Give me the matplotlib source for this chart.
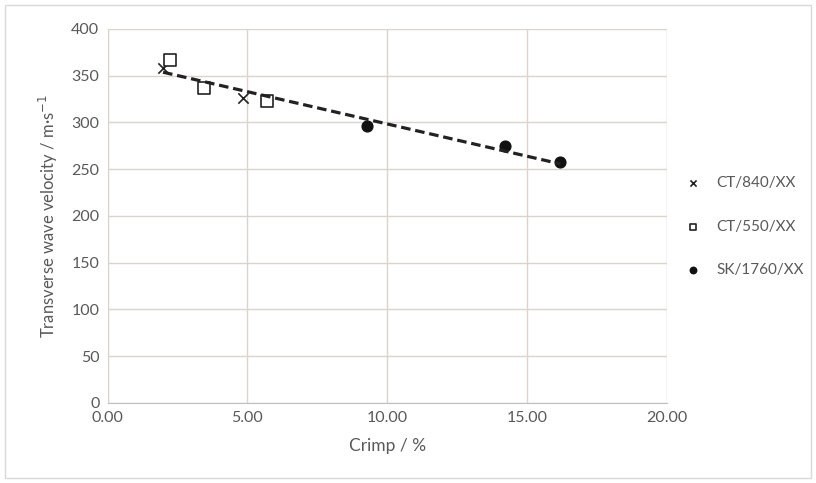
import numpy as np
import matplotlib.pyplot as plt
from matplotlib.patches import Rectangle

plt.rcParams['font.family'] = ['Lato', 'DejaVu Sans']

# Données
crimp_840 = [1.98, 4.84]
vel_840 = [358, 326]
crimp_550 = [2.22, 3.45, 5.71]
vel_550 = [367, 337, 323]
crimp_1760 = [9.26, 14.2, 16.2]
vel_1760 = [296, 275, 258]

x_ticks = [0, 5, 10, 15, 20]
y_ticks = [0, 50, 100, 150, 200, 250, 300, 350, 400]

grey = '#595959'
grid_col = '#d9d4d0'

fig = plt.figure(figsize=(8.16, 4.83), dpi=100)
ax = fig.add_axes([0.132, 0.166, 0.685, 0.774])

# cadre extérieur de la figure
fig.patches.append(Rectangle((0.006, 0.01), 0.988, 0.98, transform=fig.transFigure,
                             fill=False, edgecolor='#d9d9d9', linewidth=1))

ax.scatter(crimp_840, vel_840, marker='x', s=55, color='#222222', linewidths=1.2,
           label='CT/840/XX', zorder=3)
ax.scatter(crimp_550, vel_550, marker='s', s=70, facecolor='white', edgecolor='#222222',
           linewidths=1.2, label='CT/550/XX', zorder=3)
ax.scatter(crimp_1760, vel_1760, marker='o', s=60, color='#111111',
           label='SK/1760/XX', zorder=3)

# droite de tendance sur tous les points
xs = np.array(crimp_840 + crimp_550 + crimp_1760)
ys = np.array(vel_840 + vel_550 + vel_1760)
a, b = np.polyfit(xs, ys, 1)
xl = np.array([xs.min(), xs.max()])
ax.plot(xl, a * xl + b, linestyle=(0, (3, 1.5)), color='#222222', linewidth=2.3, zorder=4)

ax.set_xlim(0, 20)
ax.set_ylim(0, 400)
ax.set_xticks(x_ticks)
ax.set_xticklabels([f'{t:.2f}' for t in x_ticks])
ax.set_yticks(y_ticks)
ax.grid(True, color=grid_col, linewidth=1)
ax.set_axisbelow(True)
for s in ['top', 'right']:
    ax.spines[s].set_visible(False)
ax.spines['left'].set_color(grid_col)
ax.spines['bottom'].set_color('#bfbfbf')
ax.tick_params(axis='both', length=0, labelsize=11.5, colors=grey, pad=6)

ax.set_xlabel('Crimp / %', fontsize=12.5, color=grey, labelpad=9)
ax.set_ylabel('Transverse wave velocity / m·s$^{-1}$', fontsize=12, color=grey, labelpad=8)

leg = ax.legend(loc='upper left', bbox_to_anchor=(1.034, 0.607), frameon=False,
                fontsize=11, labelspacing=1.95, handlelength=1.0, handletextpad=1.0,
                borderaxespad=0, borderpad=0, markerscale=0.6)
for t in leg.get_texts():
    t.set_color(grey)

fig.savefig('out.png', dpi=100)
